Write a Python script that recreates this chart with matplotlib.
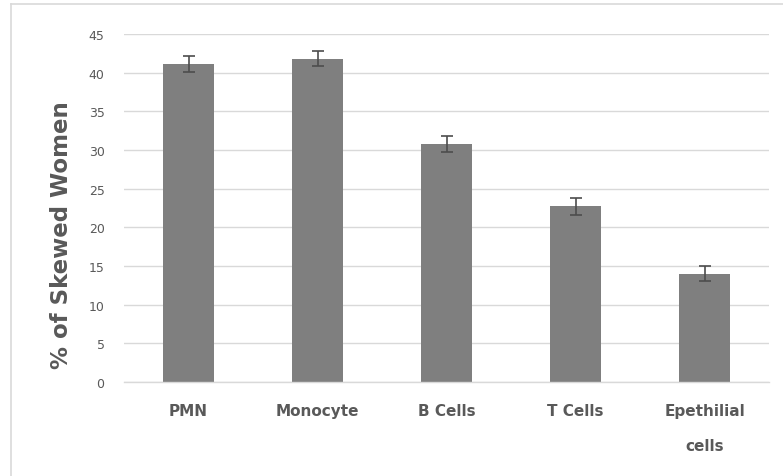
import matplotlib
matplotlib.use("Agg")
import matplotlib.pyplot as plt
from matplotlib.lines import Line2D
import numpy as np

categories = ["PMN", "Monocyte", "B Cells", "T Cells", "Epethilial\ncells"]
values = [41.1, 41.8, 30.8, 22.7, 14.0]
errors = [1.0, 1.0, 1.0, 1.05, 0.95]
yticks = [0, 5, 10, 15, 20, 25, 30, 35, 40, 45]

txt = "#595959"
grid = "#d9d9d9"

fig = plt.figure(figsize=(7.83, 4.77), dpi=100)
ax = fig.add_axes([124 / 783, 1 - 383 / 477, 645 / 783, 348 / 477])

x = np.arange(len(categories))
ax.bar(x, values, width=0.4, color="#7f7f7f", zorder=2)
ax.errorbar(x, values, yerr=errors, fmt="none", ecolor="#4d4d4d",
            elinewidth=1.2, capsize=4.5, capthick=1.2, zorder=3)

ax.set_xlim(-0.5, len(categories) - 0.5)
ax.set_ylim(0, 45)
ax.set_yticks(yticks)
ax.set_yticklabels([str(t) for t in yticks], fontsize=9, color=txt)
ax.set_xticks(x)
ax.set_xticklabels(categories, fontsize=11, fontweight="bold", color=txt,
                   linespacing=2.65, va="top")
ax.tick_params(axis="both", length=0)
ax.tick_params(axis="x", pad=15)
ax.tick_params(axis="y", pad=14)
ax.yaxis.grid(True, color=grid, linewidth=1.0, zorder=0)
ax.set_axisbelow(True)
for s in ["top", "right", "left"]:
    ax.spines[s].set_visible(False)
ax.spines["bottom"].set_color(grid)
ax.spines["bottom"].set_linewidth(1.0)

fig.text(62 / 783, 1 - 235 / 477, "% of Skewed Women", rotation=90,
         ha="center", va="center", fontsize=16.5, fontweight="bold", color=txt)

# outer chart frame (top and left edges only visible)
fig.add_artist(Line2D([11 / 783, 1], [1 - 5 / 477, 1 - 5 / 477],
                      transform=fig.transFigure, color=grid, linewidth=1.2))
fig.add_artist(Line2D([11 / 783, 11 / 783], [0, 1 - 5 / 477],
                      transform=fig.transFigure, color=grid, linewidth=1.2))

fig.savefig("out.png", dpi=100)
